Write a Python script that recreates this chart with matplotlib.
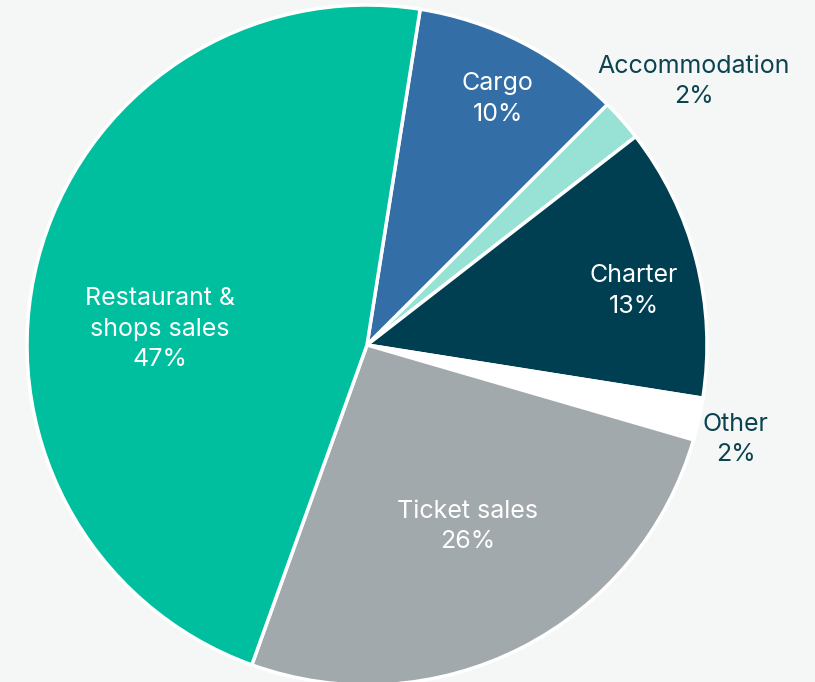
import numpy as np
import matplotlib
matplotlib.use("Agg")
import matplotlib.pyplot as plt

categories = ["Cargo", "Accommodation", "Charter", "Other", "Ticket sales", "Restaurant &\nshops sales"]
values = [10, 2, 13, 2, 26, 47]
pct_labels = ["10%", "2%", "13%", "2%", "26%", "47%"]
colors = ["#336fa6", "#98e1d5", "#003f51", "#ffffff", "#a2a9ad", "#00bf9f"]
text_colors = ["white", "#0b4450", "white", "#0b4450", "white", "white"]
# label placement (radius fraction, angular tweak in degrees)
label_r = [0.82, 1.235, 0.80, 1.12, 0.61, 0.61]
label_dtheta = [-1, -2.5, -3, -1.8, 2, 10]

bg = "#f5f7f7"
fig = plt.figure(figsize=(8.15, 6.82), dpi=100, facecolor=bg)
ax = fig.add_axes([0, 0, 1, 1])
ax.set_facecolor(bg)

cx, cy, R = 367, 682 - 345, 340
wedges, _ = ax.pie(values, colors=colors, startangle=81, counterclock=False,
                   center=(cx, cy), radius=R,
                   wedgeprops=dict(edgecolor="white", linewidth=2.5))
ax.set_xlim(0, 815)
ax.set_ylim(0, 682)
ax.set_aspect("equal")
ax.axis("off")

for w, cat, pct, tc, rf, dt in zip(wedges, categories, pct_labels, text_colors, label_r, label_dtheta):
    mid = np.deg2rad((w.theta1 + w.theta2) / 2 + dt)
    x = cx + rf * R * np.cos(mid)
    y = cy + rf * R * np.sin(mid)
    ax.text(x, y, f"{cat}\n{pct}", ha="center", va="center", color=tc,
            fontsize=18, family=["Inter", "DejaVu Sans"], fontweight="normal",
            linespacing=1.42)

fig.savefig("out.png", dpi=100, facecolor=bg)
